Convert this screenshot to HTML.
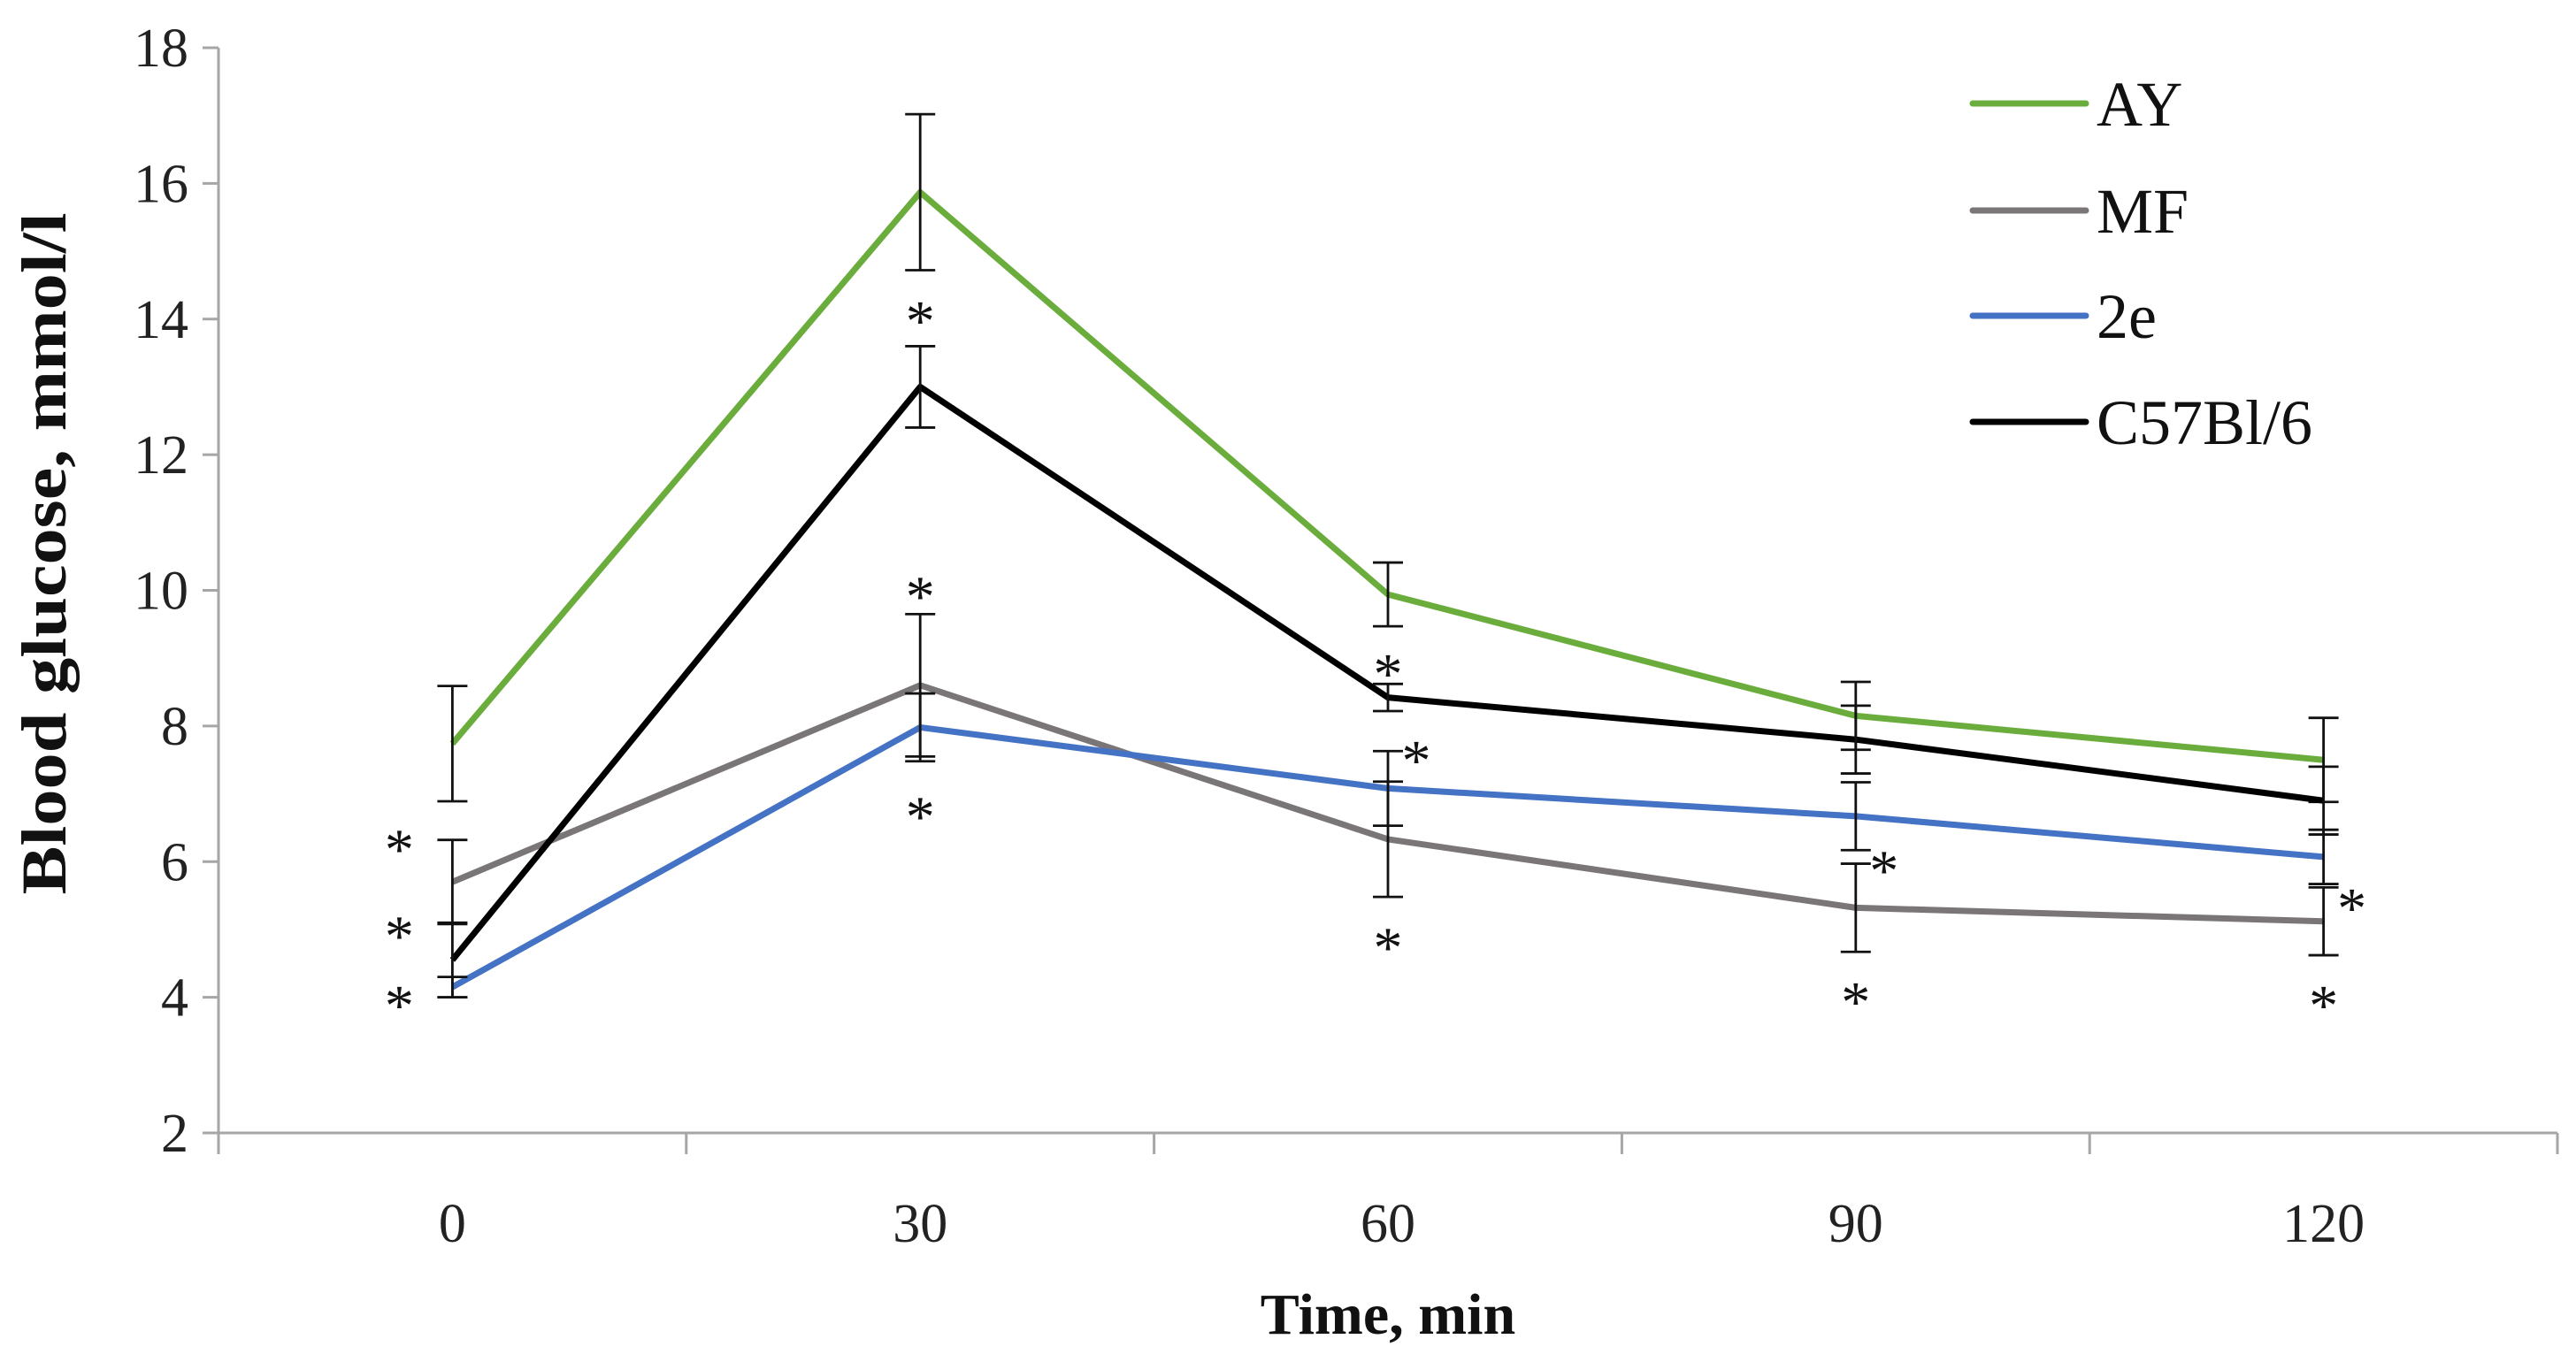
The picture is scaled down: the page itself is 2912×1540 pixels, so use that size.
<!DOCTYPE html>
<html><head><meta charset="utf-8"><style>html,body{margin:0;padding:0;background:#fff}svg{display:block}text{font-family:"Liberation Serif",serif}</style></head>
<body>
<svg id="chart" width="2912" height="1540" viewBox="0 0 2912 1540" xmlns="http://www.w3.org/2000/svg"></svg>
<script>
const categories = ["0","30","60","90","120"];
const yTicks = [2,4,6,8,10,12,14,16,18];
const seriesNames = ["AY","MF","2e","C57Bl/6"];
const ayValues = [7.74,15.87,9.94,8.15,7.5];
const ayErrors = [0.85,1.15,0.47,0.5,0.62];
const mfValues = [5.7,8.6,6.33,5.32,5.12];
const mfErrors = [0.62,1.05,0.85,0.65,0.5];
const e2Values = [4.15,7.98,7.08,6.67,6.07];
const e2Errors = [0.15,0.5,0.55,0.5,0.4];
const c57Values = [4.55,13.0,8.42,7.8,6.9];
const c57Errors = [0.55,0.6,0.2,0.5,0.5];
const asteriskCat = [0,0,0,1,1,1,2,2,2,3,3,4,4];
const asteriskVal = [6.31,5.03,4.01,14.1,10.04,6.79,8.9,7.62,4.86,6.0,4.06,5.44,4.01];
const asteriskSide = [-1,-1,-1,0,0,0,0,1,0,1,0,1,0];

const NS="http://www.w3.org/2000/svg";
const svg=document.getElementById('chart');
const L=247,R=2891,T=54,B=1281,yMin=2,yMax=18;
const band=(R-L)/categories.length;
const xS=i=>L+band*(i+0.5);
const yS=v=>B-(v-yMin)/(yMax-yMin)*(B-T);
function mk(tag,attrs,parent){const e=document.createElementNS(NS,tag);for(const k in attrs)e.setAttribute(k,attrs[k]);(parent||svg).appendChild(e);return e;}

const axes=mk('g',{});


const yAxis=mk('line',{x1:L,y1:T,x2:L,y2:B+24,stroke:'#a6a6a6','stroke-width':3},axes);


const xAxis=mk('line',{x1:L-18,y1:B,x2:R,y2:B,stroke:'#a6a6a6','stroke-width':3},axes);


yTicks.forEach(v=>{
  const t=mk('line',{x1:L-18,y1:yS(v),x2:L,y2:yS(v),stroke:'#a6a6a6','stroke-width':3},axes);
  
  
  const lb=mk('text',{x:L-34,y:yS(v)+21,'text-anchor':'end','font-size':62,fill:'#222'},axes);
  
  
  lb.textContent=v;
});
for(let i=0;i<=categories.length;i++){
  const t=mk('line',{x1:L+band*i,y1:B,x2:L+band*i,y2:B+24,stroke:'#a6a6a6','stroke-width':3},axes);
  
  
}
categories.forEach((c,i)=>{
  const lb=mk('text',{x:xS(i),y:1404,'text-anchor':'middle','font-size':62,fill:'#222'},axes);
  
  
  lb.textContent=c;
});
const xt=mk('text',{x:1569,y:1508,'text-anchor':'middle','font-size':66,'font-weight':'bold',fill:'#111'});


xt.textContent='Time, min';
const yt=mk('text',{x:0,y:0,'text-anchor':'middle','font-size':72,'font-weight':'bold',fill:'#111',textLength:771,lengthAdjust:'spacingAndGlyphs',transform:'translate(74,626) rotate(-90)'});


yt.textContent='Blood glucose, mmol/l';

const allSeries=[[ayValues,ayErrors,'#6aad3d'],[mfValues,mfErrors,'#7a7677'],[e2Values,e2Errors,'#4472c4'],[c57Values,c57Errors,'#000']];
allSeries.forEach((s,si)=>{
  const g=mk('g',{});
  
  
  const pts=s[0].map((v,i)=>xS(i)+','+yS(v)).join(' ');
  const pl=mk('polyline',{points:pts,fill:'none',stroke:s[2],'stroke-width':7,'stroke-linejoin':'round'},g);
  
  
  s[0].forEach((v,i)=>{
    const x=xS(i),y1=yS(v+s[1][i]),y2=yS(v-s[1][i]);
    const eb=mk('path',{d:`M${x},${y1}V${y2}M${x-17},${y1}H${x+17}M${x-17},${y2}H${x+17}`,stroke:'#111','stroke-width':2.8,fill:'none'},g);
    
    
  });
});

asteriskCat.forEach((c,i)=>{
  const dx=asteriskSide[i]<0?-60:(asteriskSide[i]>0?32:0);
  const a=mk('text',{x:xS(c)+dx,y:yS(asteriskVal[i])+32,'text-anchor':'middle','font-size':66,fill:'#111'});
  
  
  a.textContent='*';
});

const legendY=[117,238,357,477];
const leg=mk('g',{});


seriesNames.forEach((n,i)=>{
  const e=mk('g',{},leg);
  
  
  mk('line',{x1:2230,y1:legendY[i],x2:2358,y2:legendY[i],stroke:allSeries[i][2],'stroke-width':7,'stroke-linecap':'round'},e);
  const t=mk('text',{x:2370,y:legendY[i]+25,'font-size':72,fill:'#111'},e);
  t.textContent=n;
});
</script>
</body></html>
